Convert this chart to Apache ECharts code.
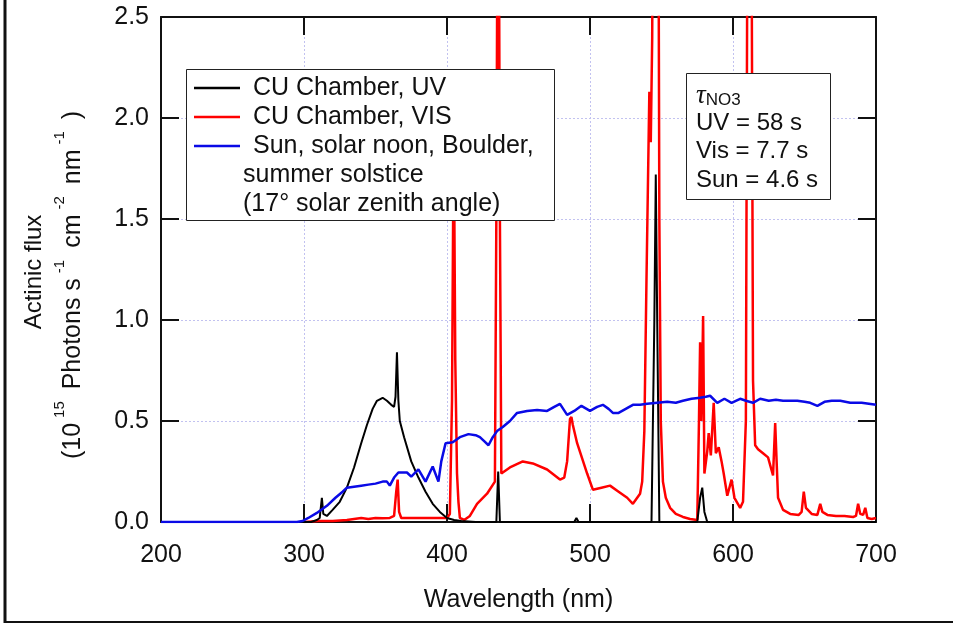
<!DOCTYPE html>
<html>
<head>
<meta charset="utf-8">
<title>Actinic flux spectra</title>
<script src="https://cdn.jsdelivr.net/npm/echarts@6/dist/echarts.min.js"></script>
<style>
  html, body { margin: 0; padding: 0; background: #fff; }
  #chart { width: 953px; height: 624px; }
</style>
</head>
<body>
<div id="chart"></div>
<script>
// wavelength (nm) / actinic flux (1e15 photons s-1 cm-2 nm-1)
const sunWavelength = [200, 295, 299, 303, 309, 316, 322, 327, 330, 335, 340, 345, 350, 355, 358, 360, 363, 366, 372, 375, 380, 385, 390, 394, 396, 399, 404, 409, 415, 420, 423, 426, 429, 432, 435, 439, 444, 449, 456, 463, 470, 475, 479, 484, 489, 494, 500, 505, 509, 513, 516, 520, 525, 530, 535, 540, 547, 554, 560, 565, 571, 577, 581, 584, 589, 594, 599, 605, 609, 614, 619, 625, 630, 635, 640, 645, 650, 654, 659, 664, 669, 675, 682, 690, 695, 700];
const sunFlux = [0, 0, 0.005, 0.02, 0.045, 0.08, 0.12, 0.15, 0.17, 0.175, 0.18, 0.185, 0.19, 0.2, 0.2, 0.18, 0.22, 0.245, 0.245, 0.225, 0.26, 0.2, 0.275, 0.2, 0.3, 0.39, 0.395, 0.42, 0.435, 0.43, 0.42, 0.4, 0.38, 0.42, 0.45, 0.47, 0.5, 0.54, 0.55, 0.555, 0.55, 0.57, 0.585, 0.53, 0.55, 0.575, 0.55, 0.57, 0.58, 0.56, 0.54, 0.54, 0.56, 0.58, 0.58, 0.585, 0.59, 0.595, 0.59, 0.6, 0.61, 0.615, 0.62, 0.625, 0.59, 0.61, 0.59, 0.61, 0.6, 0.59, 0.61, 0.6, 0.605, 0.6, 0.6, 0.6, 0.595, 0.59, 0.575, 0.595, 0.6, 0.6, 0.59, 0.59, 0.585, 0.58];

const uvWavelength = [290, 305, 309, 311, 312.5, 313.5, 316, 320, 325, 330, 335, 340, 344, 348, 351, 355, 358, 361, 363, 364, 365, 366, 367, 370, 375, 380, 385, 390, 395, 400, 405, 410, 420, 434.5, 435.8, 437, 489, 490.5, 492, 543, 545, 546, 547, 548.5, 575, 577, 578.5, 580, 582, 700];
const uvFlux = [0, 0, 0.01, 0.02, 0.12, 0.04, 0.03, 0.06, 0.1, 0.17, 0.27, 0.39, 0.48, 0.56, 0.6, 0.615, 0.6, 0.58, 0.57, 0.62, 0.84, 0.6, 0.5, 0.42, 0.3, 0.22, 0.15, 0.09, 0.05, 0.02, 0.01, 0.005, 0, 0, 0.25, 0, 0, 0.02, 0, 0, 1.0, 1.72, 1.0, 0, 0, 0.12, 0.17, 0.05, 0, 0];

const visWavelength = [300, 310, 320, 330, 335, 340, 345, 350, 355, 360, 363, 364.5, 365.5, 366.5, 368, 375, 385, 395, 400, 402, 403.5, 404.7, 405.8, 407, 408, 409, 412, 416, 421, 428, 433.5, 434.5, 435.8, 437, 438, 444, 453, 460, 470, 479, 482, 484, 486, 487, 488, 491, 498, 502, 508, 514, 520, 526, 530, 533, 535, 536.5, 538, 539.5, 541.5, 542.5, 543.5, 544.5, 547.5, 548.5, 549.5, 551, 553, 556, 560, 565, 570, 575, 576.2, 577, 577.8, 578.5, 579.1, 580, 582, 583, 584.5, 586.5, 588, 590, 592, 593.5, 596, 599, 601, 605, 607, 609, 610.5, 612.5, 614, 615.5, 617.5, 621, 624.5, 628, 629.5, 630.5, 631.5, 635, 640, 646, 648, 649.5, 651, 655, 659, 661, 662.5, 666, 672, 678, 684, 686, 687.5, 689, 691, 692.5, 694, 697, 700];
const visFlux = [0, 0.005, 0.005, 0.01, 0.015, 0.02, 0.015, 0.02, 0.018, 0.02, 0.03, 0.15, 0.21, 0.05, 0.02, 0.02, 0.02, 0.02, 0.02, 0.04, 0.6, 2.0, 0.8, 0.24, 0.1, 0.02, 0.01, 0.03, 0.09, 0.14, 0.2, 1.5, 4.0, 1.5, 0.24, 0.27, 0.3, 0.29, 0.26, 0.21, 0.22, 0.3, 0.51, 0.52, 0.48, 0.39, 0.24, 0.16, 0.17, 0.18, 0.15, 0.12, 0.09, 0.12, 0.14, 0.2, 0.45, 1.2, 2.13, 1.88, 2.4, 4.0, 4.0, 1.5, 0.5, 0.2, 0.12, 0.07, 0.04, 0.025, 0.015, 0.01, 0.5, 0.89, 0.5, 0.75, 1.02, 0.24, 0.35, 0.44, 0.33, 0.59, 0.34, 0.37, 0.3, 0.24, 0.13, 0.21, 0.12, 0.07, 0.1, 0.5, 4.0, 4.0, 0.7, 0.38, 0.36, 0.34, 0.32, 0.23, 0.49, 0.3, 0.12, 0.06, 0.04, 0.035, 0.05, 0.15, 0.07, 0.04, 0.035, 0.09, 0.05, 0.035, 0.03, 0.03, 0.025, 0.03, 0.09, 0.04, 0.035, 0.07, 0.02, 0.015, 0.02];

const xTicks = { min: 200, max: 700, step: 100 };
const yTicks = { min: 0, max: 2.5, step: 0.5 };

const legendNames = ['CU Chamber, UV', 'CU Chamber, VIS', 'Sun, solar noon, Boulder,'];
const legendExtra = ['summer solstice', '(17° solar zenith angle)'];
const tauLines = ['UV = 58 s', 'Vis = 7.7 s', 'Sun = 4.6 s'];

const ff = "'Liberation Sans', Arial, sans-serif";
const ink = '#111';
const colors = { uv: '#000000', vis: '#ff0000', sun: '#0a0ae6' };
const TOP = 100; // z for everything drawn over the plot

const zip = (xs, ys) => xs.map((x, i) => [x, ys[i]]);

const chart = echarts.init(document.getElementById('chart'), null, { renderer: 'canvas' });

// shared look for the four sides of the box
function frameAxis(position, range, extra) {
  return Object.assign({
    type: 'value',
    position,
    min: range.min,
    max: range.max,
    interval: range.step,
    axisLine: { show: true, onZero: false, lineStyle: { color: ink, width: 2 } },
    axisTick: { show: true, inside: true, length: 18, lineStyle: { color: ink, width: 2 } },
    axisLabel: { show: false },
    splitLine: { show: false },
  }, extra);
}

const gridLine = { show: true, lineStyle: { color: '#c2c2f0', width: 1, type: [2, 2] } };

const textEl = (x, y, text, size) => ({
  type: 'text', z: TOP, x, y,
  style: { text, fontSize: size, fontFamily: ff, fill: ink, align: 'left', verticalAlign: 'middle' },
});
const lineEl = (x1, y1, x2, y2, stroke, lineWidth) => ({
  type: 'line', z: TOP, shape: { x1, y1, x2, y2 }, style: { stroke, lineWidth },
});

const option = {
  animation: false,
  backgroundColor: '#fff',
  grid: { left: 161, top: 17, width: 715, height: 505 },
  xAxis: [
    frameAxis('bottom', xTicks, {
      axisLabel: { show: true, fontSize: 25, fontFamily: ff, color: ink, margin: 21 },
      splitLine: gridLine,
      name: 'Wavelength (nm)',
      nameLocation: 'middle',
      nameGap: 66,
      nameTextStyle: { fontSize: 25, fontFamily: ff, color: ink },
    }),
    frameAxis('top', xTicks),
  ],
  yAxis: [
    frameAxis('left', yTicks, {
      axisLabel: { show: true, fontSize: 25, fontFamily: ff, color: ink, margin: 12, formatter: v => v.toFixed(1) },
      splitLine: gridLine,
    }),
    frameAxis('right', yTicks),
  ],
  series: [
    { name: legendNames[1], type: 'line', data: zip(visWavelength, visFlux), showSymbol: false, symbol: 'none', z: 2,
      lineStyle: { color: colors.vis, width: 2.5 }, clip: true },
    { name: legendNames[0], type: 'line', data: zip(uvWavelength, uvFlux), showSymbol: false, symbol: 'none', z: 3,
      lineStyle: { color: colors.uv, width: 2 }, clip: true },
    { name: legendNames[2], type: 'line', data: zip(sunWavelength, sunFlux), showSymbol: false, symbol: 'none', z: 4,
      lineStyle: { color: colors.sun, width: 2.5 }, clip: true },
  ],
  graphic: [
    // outer frame (left and bottom only)
    lineEl(5, 0, 5, 623, '#111', 3),
    lineEl(5, 622, 953, 622, '#111', 2),
    // y axis title
    { type: 'text', z: TOP, x: 34, y: 272, rotation: Math.PI / 2,
      style: { text: 'Actinic flux', fontSize: 24, fontFamily: ff, fill: ink, align: 'center', verticalAlign: 'middle' } },
    { type: 'text', z: TOP, x: 73, y: 285, rotation: Math.PI / 2,
      style: {
        text: '(10{sup|15} Photons s{sup|-1} cm{sup|-2} nm{sup|-1} )',
        fontSize: 25, fontFamily: ff, fill: ink, align: 'center', verticalAlign: 'middle',
        rich: { sup: { fontSize: 15, fontFamily: ff, fill: ink, padding: [0, 5, 26, 5] } },
      } },
    // legend box
    { type: 'rect', z: TOP, shape: { x: 186.5, y: 69.5, width: 368, height: 151 }, style: { fill: '#fff', stroke: '#222', lineWidth: 1 } },
    lineEl(194, 88, 240, 88, colors.uv, 2.5),
    lineEl(194, 117, 240, 117, colors.vis, 2.5),
    lineEl(194, 146, 240, 146, colors.sun, 2.5),
    ...legendNames.map((t, i) => textEl(253, 88 + i * 29, t, 25)),
    ...legendExtra.map((t, i) => textEl(243, 175 + i * 29, t, 25)),
    // lifetime annotation
    { type: 'rect', z: TOP, shape: { x: 686.5, y: 73.5, width: 144, height: 126 }, style: { fill: '#fff', stroke: '#222', lineWidth: 1 } },
    { type: 'text', z: TOP, x: 696, y: 96,
      style: {
        text: '{tau|τ}{sub|NO3}', align: 'left', verticalAlign: 'middle',
        rich: {
          tau: { fontSize: 27, fontStyle: 'italic', fontFamily: "'Liberation Serif', 'DejaVu Serif', serif", fill: ink },
          sub: { fontSize: 17, fontFamily: ff, fill: ink, padding: [9, 0, 0, 0] },
        },
      } },
    ...tauLines.map((t, i) => textEl(696, 123 + i * 28.5, t, 24)),
  ],
};

chart.setOption(option);
</script>
</body>
</html>
